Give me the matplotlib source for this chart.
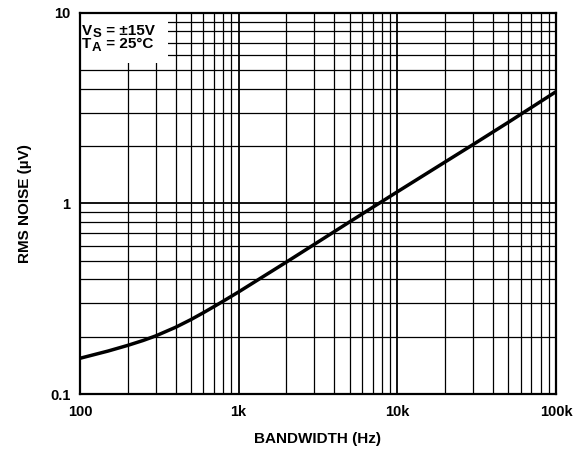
import matplotlib
matplotlib.use('Agg')
import matplotlib.pyplot as plt
from matplotlib.patches import Rectangle
from matplotlib.ticker import FixedLocator, LogLocator, NullFormatter

plt.rcParams['font.family'] = ['Liberation Sans', 'DejaVu Sans']
plt.rcParams['font.weight'] = 'bold'

# bandwidth (Hz) and rms noise (uV)
bandwidth = [100, 150, 200, 250, 300, 400, 500, 600, 700, 800, 1000, 2000,
             3000, 5000, 10000, 20000, 30000, 50000, 100000]
noise = [0.154, 0.168, 0.180, 0.191, 0.2018, 0.2239, 0.2458, 0.2673, 0.2878,
         0.3073, 0.3436, 0.4928, 0.6106, 0.8007, 1.152, 1.652, 2.039, 2.667,
         3.864]

xticks = [100, 1000, 10000, 100000]
xticklabels = ['100', '1k', '10k', '100k']
yticks = [0.1, 1, 10]
yticklabels = ['0.1', '1', '10']

fig = plt.figure(figsize=(5.81, 4.49), dpi=100)
ax = fig.add_axes([80 / 581, 55 / 449, 476 / 581, 381 / 449])

ax.plot(bandwidth, noise, color='black', linewidth=2.5, zorder=4,
        solid_capstyle='butt', solid_joinstyle='round')

ax.set_xscale('log')
ax.set_yscale('log')
ax.set_xlim(100, 100000)
ax.set_ylim(0.1, 10)

ax.xaxis.set_major_locator(FixedLocator(xticks))
ax.set_xticklabels(xticklabels)
ax.yaxis.set_major_locator(FixedLocator(yticks))
ax.set_yticklabels(yticklabels)
ax.xaxis.set_minor_locator(LogLocator(base=10, subs=range(2, 10)))
ax.yaxis.set_minor_locator(LogLocator(base=10, subs=range(2, 10)))
ax.xaxis.set_minor_formatter(NullFormatter())
ax.yaxis.set_minor_formatter(NullFormatter())

ax.grid(True, which='major', color='black', linewidth=1.3, zorder=1)
ax.grid(True, which='minor', color='black', linewidth=0.9, zorder=1)
ax.set_axisbelow(True)
ax.tick_params(which='both', length=0, labelsize=10.5)
ax.tick_params(axis='x', pad=8)
ax.tick_params(axis='y', pad=7)
for s in ax.spines.values():
    s.set_linewidth(1.6)
    s.set_zorder(5)

ax.set_xlabel('BANDWIDTH (Hz)', fontsize=11, fontweight='bold', labelpad=9)
ax.set_ylabel('RMS NOISE (µV)', fontsize=11, fontweight='bold', labelpad=13)

# white label box in the top-left corner
ax.add_patch(Rectangle((0, 0.869), 0.185, 0.131, transform=ax.transAxes,
                       facecolor='white', edgecolor='none', zorder=2))


def label(y, main, sub, rest):
    t1 = ax.text(0.004, y, main, transform=ax.transAxes, fontsize=11,
                 fontweight='bold', va='baseline', ha='left', zorder=3)
    t2 = ax.annotate(sub, xy=(1, 0), xycoords=t1, xytext=(0.4, -1.6),
                     textcoords='offset points', fontsize=9.5,
                     fontweight='bold', va='bottom', ha='left', zorder=3)
    ax.annotate(rest, xy=(1, 0), xycoords=(t2, t1), xytext=(0.3, 0),
                textcoords='offset points', fontsize=11,
                fontweight='bold', va='bottom', ha='left', zorder=3)


label(0.942, 'V', 'S', ' = ±15V')
label(0.907, 'T', 'A', ' = 25°C')

fig.savefig('out.png', dpi=100)
